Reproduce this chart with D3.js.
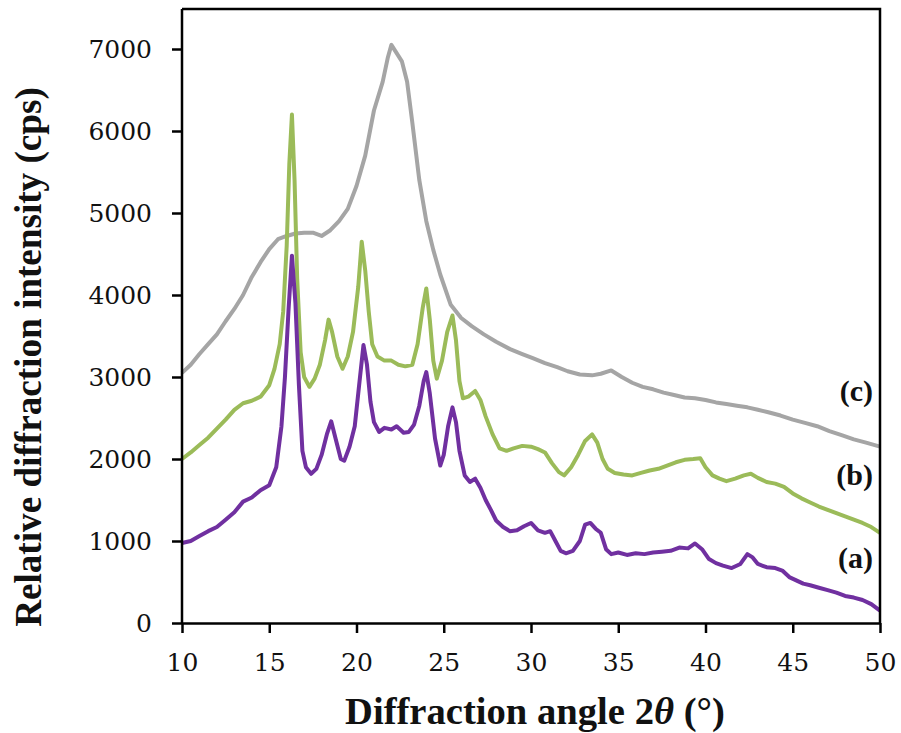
<!DOCTYPE html>
<html>
<head>
<meta charset="utf-8">
<script src="https://cdn.jsdelivr.net/npm/d3@7"></script>
<style>
  body { margin: 0; background: #fff; }
  svg { display: block; }
  .tick text { font-family: "DejaVu Serif", serif; }
</style>
</head>
<body>
<svg id="chart"></svg>
<script>
const width = 901;
const height = 733;

// data
const angleA = [10.0,10.5,11.0,11.5,12.0,12.5,13.0,13.5,14.0,14.5,15.0,15.4,15.7,15.9,16.1,16.3,16.5,16.7,16.9,17.1,17.4,17.7,18.0,18.3,18.55,18.8,19.1,19.3,19.6,19.9,20.15,20.4,20.6,20.8,21.0,21.3,21.6,22.0,22.3,22.7,23.0,23.3,23.6,23.85,24.0,24.2,24.5,24.8,25.0,25.25,25.5,25.7,25.9,26.2,26.5,26.8,27.1,27.4,27.7,28.0,28.4,28.8,29.2,29.6,30.0,30.4,30.8,31.1,31.4,31.7,32.0,32.4,32.8,33.1,33.4,33.7,34.0,34.3,34.6,35.0,35.5,36.0,36.5,37.0,37.5,38.0,38.5,39.0,39.4,39.8,40.2,40.6,41.0,41.5,42.0,42.4,42.7,43.0,43.5,44.0,44.4,44.8,45.2,45.6,46.0,46.5,47.0,47.5,48.0,48.5,49.0,49.5,50.0];
const intensityA = [975,1000,1060,1120,1170,1260,1350,1480,1530,1620,1680,1900,2400,3000,3800,4480,3900,2900,2100,1900,1820,1880,2050,2300,2460,2250,2000,1980,2150,2400,2900,3390,3150,2700,2450,2330,2380,2360,2400,2320,2330,2420,2650,2950,3060,2800,2250,1920,2050,2400,2630,2450,2100,1800,1720,1760,1650,1500,1380,1250,1170,1120,1130,1180,1220,1130,1100,1120,1000,880,850,880,1000,1200,1220,1150,1100,900,840,860,830,850,840,860,870,880,920,910,970,900,780,730,700,670,720,840,800,720,680,670,640,560,520,480,460,430,400,370,330,310,280,230,150];

const angleB = [10.0,10.5,11.0,11.5,12.0,12.5,13.0,13.5,14.0,14.5,15.0,15.3,15.6,15.8,16.0,16.15,16.3,16.45,16.6,16.8,17.0,17.3,17.6,17.9,18.2,18.4,18.6,18.9,19.2,19.5,19.8,20.1,20.3,20.5,20.7,20.9,21.2,21.6,22.0,22.4,22.8,23.2,23.5,23.8,24.0,24.2,24.4,24.6,24.9,25.2,25.5,25.7,25.9,26.1,26.4,26.8,27.1,27.4,27.8,28.2,28.6,29.0,29.5,30.0,30.4,30.8,31.2,31.6,31.9,32.3,32.7,33.1,33.5,33.8,34.1,34.4,34.8,35.3,35.8,36.3,36.8,37.3,37.8,38.3,38.8,39.3,39.7,40.0,40.4,40.8,41.2,41.7,42.2,42.6,43.0,43.5,44.0,44.5,45.0,45.5,46.0,46.5,47.0,47.5,48.0,48.5,49.0,49.5,50.0];
const intensityB = [2000,2080,2170,2260,2370,2480,2600,2680,2710,2760,2900,3100,3400,3800,4600,5600,6200,5400,4200,3300,3000,2880,2980,3150,3450,3700,3550,3250,3100,3250,3550,4100,4650,4300,3800,3400,3250,3200,3200,3150,3130,3150,3400,3850,4080,3700,3200,2980,3200,3550,3750,3450,2950,2740,2760,2830,2720,2520,2300,2130,2100,2130,2160,2150,2120,2080,1950,1840,1800,1900,2050,2220,2300,2200,2000,1880,1830,1810,1800,1830,1860,1880,1920,1960,1990,2000,2010,1900,1800,1760,1730,1760,1800,1820,1770,1720,1700,1660,1580,1520,1470,1420,1380,1340,1300,1260,1220,1170,1100];

const angleC = [10.0,10.5,11.0,11.5,12.0,12.5,13.0,13.5,14.0,14.5,15.0,15.5,16.0,16.5,17.0,17.5,18.0,18.5,19.0,19.5,20.0,20.5,21.0,21.5,21.8,22.0,22.3,22.6,22.9,23.2,23.6,24.0,24.4,24.8,25.4,26.0,26.6,27.3,28.0,28.8,29.5,30.1,30.8,31.5,32.1,32.8,33.5,34.0,34.6,35.2,35.8,36.4,37.0,37.6,38.2,38.8,39.4,40.0,40.6,41.2,41.8,42.4,43.0,43.6,44.3,45.0,45.7,46.4,47.1,47.8,48.5,49.2,50.0];
const intensityC = [3050,3150,3280,3400,3520,3680,3830,4000,4220,4400,4560,4680,4720,4750,4760,4760,4720,4790,4900,5050,5330,5700,6250,6600,6900,7050,6950,6850,6600,6100,5400,4900,4550,4250,3880,3720,3620,3520,3430,3340,3280,3230,3170,3120,3070,3030,3020,3040,3080,3000,2930,2880,2850,2810,2780,2750,2740,2720,2690,2670,2650,2630,2600,2570,2530,2480,2440,2400,2340,2290,2240,2200,2150];

const seriesNames = ["(a)", "(b)", "(c)"];
const seriesColors = ["#7030a0", "#9bbb59", "#a5a5a5"];
const xTicks = [10, 15, 20, 25, 30, 35, 40, 45, 50];
const yTicks = [0, 1000, 2000, 3000, 4000, 5000, 6000, 7000];

const margin = {left: 182, top: 9, right: 21, bottom: 110};
const innerW = width - margin.left - margin.right;

const svg = d3.select("#chart")
    .attr("width", width)
    .attr("height", height);

const x = d3.scaleLinear().domain([10, 50]).range([margin.left, margin.left + innerW]);
// 7000 sits at y=49, 0 at y=623
const y = d3.scaleLinear().domain([0, 7000]).range([623, 49]);

const line = d3.line()
    .x(d => x(d[0]))
    .y(d => y(d[1]));

// draw back to front: (c), (b), (a)
const series = [
    {pts: d3.zip(angleC, intensityC), color: seriesColors[2]},
    {pts: d3.zip(angleB, intensityB), color: seriesColors[1]},
    {pts: d3.zip(angleA, intensityA), color: seriesColors[0]}
];

svg.append("g").selectAll("path")
    .data(series)
    .join("path")
    .attr("d", d => line(d.pts))
    .attr("fill", "none")
    .attr("stroke", d => d.color)
    .attr("stroke-width", 4)
    .attr("stroke-linejoin", "round");

// frame: top and right
svg.append("path")
    .attr("d", `M${x(10)},${margin.top} H${x(50)} V${y(0)}`)
    .attr("fill", "none")
    .attr("stroke", "#000")
    .attr("stroke-width", 2.5);

const xAxis = svg.append("g")
    .attr("transform", `translate(0,${y(0)})`)
    .call(d3.axisBottom(x).tickValues(xTicks).tickSize(10).tickSizeOuter(0).tickPadding(20).tickFormat(d3.format("d")));

const yAxis = svg.append("g")
    .attr("transform", `translate(${x(10)},0)`)
    .call(d3.axisLeft(y).tickValues(yTicks).tickSize(10).tickSizeOuter(0).tickPadding(20).tickFormat(d3.format("d")));

[xAxis, yAxis].forEach(g => {
    g.select(".domain").attr("stroke", "#000").attr("stroke-width", 2.5);
    g.selectAll(".tick line").attr("stroke", "#000").attr("stroke-width", 2.5);
    g.selectAll(".tick text").attr("fill", "#111").attr("font-size", 25);
});
xAxis.selectAll(".tick text").attr("dy", "0.71em");

// left axis line reaches the top of the frame
yAxis.select(".domain").attr("d", `M0,${margin.top}V${y(0)}`);

// fit a text to a target width
function fitText(sel, target) {
    const w = sel.node().getComputedTextLength();
    const fs = parseFloat(sel.attr("font-size"));
    sel.attr("font-size", fs * target / w);
}

const xTitle = svg.append("text")
    .attr("x", 345)
    .attr("y", 724)
    .attr("font-family", "Liberation Serif, serif")
    .attr("font-weight", "bold")
    .attr("font-size", 30)
    .attr("fill", "#111");
xTitle.append("tspan").text("Diffraction angle 2");
xTitle.append("tspan").attr("font-style", "italic").text("θ");
xTitle.append("tspan").text(" (°)");
fitText(xTitle, 380);

const yTitle = svg.append("text")
    .attr("transform", "translate(41,357) rotate(-90)")
    .attr("text-anchor", "middle")
    .attr("font-family", "Liberation Serif, serif")
    .attr("font-weight", "bold")
    .attr("font-size", 30)
    .attr("fill", "#111")
    .text("Relative diffraction intensity (cps)");
fitText(yTitle, 540);

// series labels at the right end
const labelY = [568, 485, 401];
svg.append("g").selectAll("text")
    .data(seriesNames)
    .join("text")
    .attr("x", 873)
    .attr("y", (d, i) => labelY[i])
    .attr("text-anchor", "end")
    .attr("font-family", "Liberation Serif, serif")
    .attr("font-weight", "bold")
    .attr("font-size", 30)
    .attr("fill", "#111")
    .text(d => d);
</script>
</body>
</html>
